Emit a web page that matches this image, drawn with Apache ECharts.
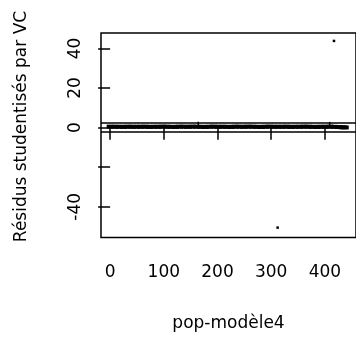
<!DOCTYPE html>
<html>
<head>
<meta charset="utf-8">
<script src="https://cdn.jsdelivr.net/npm/echarts@6/dist/echarts.min.js"></script>
<style>html,body{margin:0;padding:0;background:#fff;}#c{width:356px;height:343px;}</style>
</head>
<body>
<div id="c"></div>
<script>
// observation numbers (pop-modèle4) and studentized residuals of the dense band near 0
var bandObs = [1,9,17,25,33,41,49,57,65,73,81,89,97,105,113,121,129,137,145,153,161,169,177,185,193,201,209,217,225,233,241,249,257,265,273,281,289,297,305,313,321,329,337,345,353,361,369,377,385,393,401,409,417,425,433,437];
var bandRes = [0.5,0.4,0.45,0.35,0.5,0.4,0.45,0.4,0.5,0.35,0.45,0.4,0.5,0.45,0.4,0.35,0.5,0.45,0.4,0.5,0.45,0.4,0.35,0.45,0.5,0.4,0.45,0.4,0.35,0.5,0.45,0.4,0.5,0.45,0.4,0.35,0.45,0.5,0.4,0.45,0.4,0.5,0.35,0.45,0.4,0.5,0.45,0.4,0.35,0.45,0.4,0.5,0.4,0.3,0.2,0.1];
// small upward spikes within the band
var spikeObs = [164, 409];
var spikeRes = [1.9, 1.9];
// outliers
var outObs = [312, 417];
var outRes = [-50.5, 43.8];
// reference lines
var refLines = [2.4, -2.1];
// axis ticks
var xTicks = [0, 100, 200, 300, 400];
var yTicks = [-40, -20, 0, 20, 40];
var yTickLabels = [-40, 0, 20, 40];
var xTitle = 'pop-modèle4';
var yTitle = 'Résidus studentisés par VC';

function pairs(a, b) { return a.map(function (v, i) { return [v, b[i]]; }); }

var FONT = 'DejaVu Sans';
var chart = echarts.init(document.getElementById('c'), null, {renderer: 'canvas'});
chart.setOption({
  animation: false,
  backgroundColor: '#fff',
  grid: {left: 101, top: 33, width: 256, height: 204.5, show: true, borderColor: '#000', borderWidth: 1.5, backgroundColor: 'transparent'},
  xAxis: {
    type: 'value', min: -17, max: 458,
    name: xTitle, nameLocation: 'middle', nameGap: 78,
    nameTextStyle: {fontFamily: FONT, fontSize: 17, color: '#000'},
    axisLine: {show: false},
    axisTick: {show: true, length: 12, lineStyle: {color: '#000', width: 1.5}, customValues: xTicks},
    axisLabel: {fontFamily: FONT, fontSize: 17, color: '#000', margin: 27, customValues: xTicks},
    splitLine: {show: false}
  },
  yAxis: {
    type: 'value', min: -55.5, max: 47.8,
    axisLine: {show: false},
    axisTick: {show: true, length: 12, lineStyle: {color: '#000', width: 1.5}, customValues: yTicks},
    axisLabel: {fontFamily: FONT, fontSize: 17, color: '#000', rotate: 90, margin: 17, customValues: yTickLabels},
    splitLine: {show: false}
  },
  graphic: [{
    type: 'text', x: 22, y: 126.5, rotation: Math.PI / 2,
    style: {text: yTitle, font: '17px "DejaVu Sans"', fill: '#000', align: 'center', verticalAlign: 'middle'}
  }],
  series: [
    {type: 'scatter', data: pairs(bandObs, bandRes), symbol: 'rect', symbolSize: [8, 4], itemStyle: {color: '#000', opacity: 1}, silent: true,
     markLine: {silent: true, symbol: 'none', label: {show: false}, lineStyle: {color: '#000', width: 1.5, type: 'solid', opacity: 1},
       data: refLines.map(function (v) { return {yAxis: v}; })}},
    {type: 'scatter', data: pairs(spikeObs, spikeRes), symbol: 'rect', symbolSize: [1.5, 4], itemStyle: {color: '#000', opacity: 1}, silent: true},
    {type: 'scatter', data: pairs(outObs, outRes), symbol: 'rect', symbolSize: 2.5, itemStyle: {color: '#000', opacity: 1}, silent: true}
  ]
});
</script>
</body>
</html>
